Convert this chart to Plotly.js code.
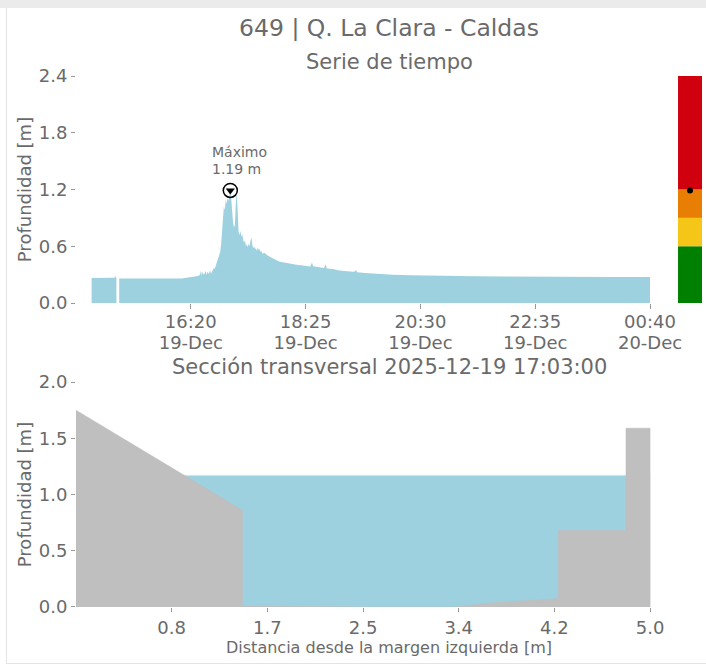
<!DOCTYPE html>
<html><head><meta charset="utf-8">
<script src="https://cdn.plot.ly/plotly-3.0.1.min.js"></script>
<style>
html,body{margin:0;padding:0;background:#fff;}
#topband{position:absolute;left:0;top:0;width:706px;height:8px;background:#ebebeb;}
#leftline{position:absolute;left:6px;top:8px;width:1px;height:656px;background:#e4e4e4;}
#bottomline{position:absolute;left:6px;top:663px;width:700px;height:1px;background:#e4e4e4;}
#chart{position:absolute;left:0;top:0;width:706px;height:665px;}
</style></head><body>
<div id="topband"></div><div id="leftline"></div><div id="bottomline"></div>
<div id="chart"></div>
<script>
// ---- Time series (Serie de tiempo) ----
const fechas = [
'2025-12-19 14:32','2025-12-19 14:40','2025-12-19 14:50','2025-12-19 14:57','2025-12-19 14:58','2025-12-19 14:59',
'2025-12-19 15:00','2025-12-19 15:02','2025-12-19 15:15','2025-12-19 15:30','2025-12-19 15:45','2025-12-19 16:00',
'2025-12-19 16:10','2025-12-19 16:15','2025-12-19 16:20','2025-12-19 16:25','2025-12-19 16:28','2025-12-19 16:30',
'2025-12-19 16:31','2025-12-19 16:32','2025-12-19 16:33','2025-12-19 16:34','2025-12-19 16:35','2025-12-19 16:36',
'2025-12-19 16:37','2025-12-19 16:38','2025-12-19 16:39','2025-12-19 16:40','2025-12-19 16:41','2025-12-19 16:42',
'2025-12-19 16:43','2025-12-19 16:44','2025-12-19 16:45','2025-12-19 16:46','2025-12-19 16:47','2025-12-19 16:48',
'2025-12-19 16:49','2025-12-19 16:50','2025-12-19 16:51','2025-12-19 16:52','2025-12-19 16:53','2025-12-19 16:54',
'2025-12-19 16:55','2025-12-19 16:56','2025-12-19 16:57','2025-12-19 16:58','2025-12-19 16:59','2025-12-19 17:00',
'2025-12-19 17:01','2025-12-19 17:02','2025-12-19 17:03','2025-12-19 17:04','2025-12-19 17:05','2025-12-19 17:06',
'2025-12-19 17:07','2025-12-19 17:08','2025-12-19 17:09','2025-12-19 17:10','2025-12-19 17:11','2025-12-19 17:12',
'2025-12-19 17:13','2025-12-19 17:14','2025-12-19 17:15','2025-12-19 17:16','2025-12-19 17:17','2025-12-19 17:18',
'2025-12-19 17:19','2025-12-19 17:20','2025-12-19 17:21','2025-12-19 17:22','2025-12-19 17:23','2025-12-19 17:24',
'2025-12-19 17:25','2025-12-19 17:26','2025-12-19 17:27','2025-12-19 17:28','2025-12-19 17:29','2025-12-19 17:30',
'2025-12-19 17:31','2025-12-19 17:32','2025-12-19 17:33','2025-12-19 17:34','2025-12-19 17:35','2025-12-19 17:36',
'2025-12-19 17:37','2025-12-19 17:38','2025-12-19 17:40','2025-12-19 17:42','2025-12-19 17:44','2025-12-19 17:46',
'2025-12-19 17:48','2025-12-19 17:50','2025-12-19 17:53','2025-12-19 17:56','2025-12-19 18:00','2025-12-19 18:05',
'2025-12-19 18:10','2025-12-19 18:15','2025-12-19 18:20','2025-12-19 18:25','2025-12-19 18:30','2025-12-19 18:32',
'2025-12-19 18:33','2025-12-19 18:35','2025-12-19 18:40','2025-12-19 18:45','2025-12-19 18:47','2025-12-19 18:48',
'2025-12-19 18:55','2025-12-19 19:00','2025-12-19 19:10','2025-12-19 19:18','2025-12-19 19:20','2025-12-19 19:21',
'2025-12-19 19:30','2025-12-19 19:45','2025-12-19 20:00','2025-12-19 20:20','2025-12-19 20:40','2025-12-19 21:00',
'2025-12-19 21:30','2025-12-19 22:00','2025-12-19 22:30','2025-12-19 23:00','2025-12-19 23:30','2025-12-20 00:00',
'2025-12-20 00:20','2025-12-20 00:40'
];
const profundidad = [
0.265,0.264,0.265,0.266,0.285,0.262,
null,0.258,0.258,0.257,0.256,0.255,
0.258,0.268,0.272,0.275,0.285,0.30,
0.34,0.29,0.335,0.30,0.31,0.34,
0.30,0.33,0.31,0.32,0.345,0.31,
0.33,0.35,0.37,0.36,0.39,0.42,
0.44,0.47,0.50,0.54,0.62,0.75,
0.92,1.02,0.98,1.09,1.05,1.11,
1.08,1.14,1.19,1.10,0.95,0.85,
0.80,0.82,1.05,1.17,0.98,0.75,
0.72,0.76,0.70,0.73,0.67,0.64,
0.66,0.60,0.62,0.59,0.63,0.60,
0.66,0.69,0.61,0.58,0.60,0.57,
0.58,0.55,0.59,0.56,0.57,0.54,
0.55,0.52,0.53,0.51,0.50,0.49,
0.48,0.47,0.46,0.44,0.43,0.42,
0.41,0.405,0.40,0.395,0.385,0.43,
0.39,0.385,0.375,0.37,0.41,0.365,
0.36,0.345,0.335,0.33,0.35,0.325,
0.318,0.307,0.300,0.293,0.288,0.285,
0.283,0.280,0.277,0.277,0.276,0.275,
0.275,0.274
];
const rangoTiempo = ['2025-12-19 14:15','2025-12-20 00:40'];
const ticksTiempo = ['2025-12-19 16:20','2025-12-19 18:25','2025-12-19 20:30','2025-12-19 22:35','2025-12-20 00:40'];
const etiquetasHora = ['16:20','18:25','20:30','22:35','00:40'];
const etiquetasDia = ['19-Dec','19-Dec','19-Dec','19-Dec','20-Dec'];

// ---- Alert levels bar ----
const umbralesInf = [0, 0.6, 0.9, 1.2];
const umbralesSup = [0.6, 0.9, 1.2, 2.4];
const coloresAlerta = ['#008000','#f5c518','#e87e04','#d0000f'];
const nivelActual = 1.19;

// ---- Cross section ----
const distancia = [0, 1.45, 1.45, 2.5, 3.3, 3.6, 4.2, 4.2, 4.79, 4.79, 5.0, 5.0];
const terreno =   [1.75, 0.86, 0.01, 0.0, 0.0, 0.035, 0.075, 0.68, 0.68, 1.59, 1.59, 0.0];
const nivelSeccion = 1.17;
const seccionX = [0, 5.0];
const rangoDist = [0, 5.452];
const ticksDist = [0.8333, 1.6667, 2.5, 3.3333, 4.1667, 5.0];
const etiquetasDist = ['0.8','1.7','2.5','3.4','4.2','5.0'];

// max
let iMax = 0;
profundidad.forEach((v,i)=>{ if(v!==null && v>profundidad[iMax]) iMax=i; });

// split series at missing values so each run is filled separately
const tramos = [];
let cur = {x:[], y:[]};
profundidad.forEach((v,i)=>{
  if(v===null){ if(cur.x.length) tramos.push(cur); cur = {x:[], y:[]}; }
  else { cur.x.push(fechas[i]); cur.y.push(v); }
});
if(cur.x.length) tramos.push(cur);

const gris = '#6a6a6a';
const azul = '#9dd1e0';
const FONT = '"DejaVu Sans", sans-serif';

const traces = [];
tramos.forEach(t=>traces.push({x:t.x, y:t.y, type:'scatter', mode:'lines', fill:'tozeroy', fillcolor:azul,
   line:{width:0, color:azul}, xaxis:'x', yaxis:'y', hoverinfo:'skip'}));
traces.push(
  {x:[fechas[iMax]], y:[profundidad[iMax]], type:'scatter', mode:'markers',
   marker:{symbol:'circle-open', size:14, color:'black', line:{width:1.5, color:'black'}}, xaxis:'x', yaxis:'y'},
  {x:[fechas[iMax]], y:[profundidad[iMax]], type:'scatter', mode:'markers',
   marker:{symbol:'triangle-down', size:8, color:'black'}, xaxis:'x', yaxis:'y'},
  {x:[rangoTiempo[0]], y:[null], type:'scatter', mode:'markers', xaxis:'x4', yaxis:'y', hoverinfo:'skip'},
  {x:umbralesInf.map(()=>0.5), y:umbralesSup.map((s,i)=>s-umbralesInf[i]), base:umbralesInf, type:'bar',
   width:1, marker:{color:coloresAlerta, line:{width:0}}, xaxis:'x3', yaxis:'y3'},
  {x:[0.5], y:[nivelActual], type:'scatter', mode:'markers', marker:{size:6, color:'black'}, xaxis:'x3', yaxis:'y3'},
  {x:seccionX, y:[nivelSeccion, nivelSeccion], type:'scatter', mode:'lines', fill:'tozeroy', fillcolor:azul,
   line:{width:1, color:'#c8e6ee'}, xaxis:'x2', yaxis:'y2'},
  {x:distancia, y:terreno, type:'scatter', mode:'lines', fill:'tozeroy', fillcolor:'#bfbfbf',
   line:{width:0.5, color:'#bfbfbf'}, xaxis:'x2', yaxis:'y2'}
);

const axCommon = {showgrid:false, zeroline:false, showline:false, ticks:'outside', ticklen:4,
  tickcolor:'#999', tickfont:{size:18, color:gris, family:FONT}};

const layout = {
  width:706, height:665,
  margin:{l:76, r:4, t:76, b:58},
  paper_bgcolor:'rgba(0,0,0,0)', plot_bgcolor:'rgba(0,0,0,0)',
  showlegend:false, barmode:'overlay',
  font:{family:FONT, color:gris, size:15},
  title:{text:'649 | Q. La Clara - Caldas', x:0.5, xref:'paper', xanchor:'center', y:1-28/665, yanchor:'middle',
    font:{size:23.5, color:gris}},
  xaxis:Object.assign({}, axCommon, {type:'date', domain:[0,0.917], range:rangoTiempo, anchor:'y',
    tickmode:'array', tickvals:ticksTiempo, ticktext:etiquetasHora, ticklen:5, ticklabelstandoff:-3}),
  xaxis4:Object.assign({}, axCommon, {type:'date', range:rangoTiempo, anchor:'y', overlaying:'x', side:'bottom',
    tickmode:'array', tickvals:ticksTiempo, ticktext:etiquetasDia, ticks:'', ticklen:0, ticklabelstandoff:27}),
  yaxis:Object.assign({}, axCommon, {domain:[0.5725,1], range:[0,2.4], anchor:'x',
    tickmode:'array', tickvals:[0,0.6,1.2,1.8,2.4], tickformat:'.1f',
    title:{text:'Profundidad [m]', font:{size:18, color:gris}, standoff:2}}),
  xaxis2:Object.assign({}, axCommon, {domain:[0,1], range:rangoDist, anchor:'y2',
    tickmode:'array', tickvals:ticksDist, ticktext:etiquetasDist,
    title:{text:'Distancia desde la margen izquierda [m]', font:{size:16, color:gris}, standoff:4}}),
  yaxis2:Object.assign({}, axCommon, {domain:[0,0.4237], range:[0,2], anchor:'x2',
    tickmode:'array', tickvals:[0,0.5,1,1.5,2], tickformat:'.1f',
    title:{text:'Profundidad [m]', font:{size:18, color:gris}, standoff:2}}),
  xaxis3:{domain:[0.9617,1], range:[0,1], visible:false, anchor:'y3', fixedrange:true},
  yaxis3:{domain:[0.5725,1], range:[0,2.4], visible:false, anchor:'x3', fixedrange:true},
  annotations:[
    {text:'Serie de tiempo', xref:'paper', yref:'paper', x:0.5, y:(607-62)/531, xanchor:'center', yanchor:'middle',
     showarrow:false, font:{size:21, color:gris}},
    {text:'Sección transversal 2025-12-19 17:03:00', xref:'paper', yref:'paper', x:0.5, y:(607-367)/531,
     xanchor:'center', yanchor:'middle', showarrow:false, font:{size:21, color:gris}},
    {text:'Máximo', xref:'x', yref:'y', x:fechas[iMax], y:profundidad[iMax],
     xanchor:'left', yanchor:'middle', xshift:-20, yshift:38, align:'left', showarrow:false,
     font:{size:14, color:gris}},
    {text:profundidad[iMax].toFixed(2)+' m', xref:'x', yref:'y', x:fechas[iMax], y:profundidad[iMax],
     xanchor:'left', yanchor:'middle', xshift:-20, yshift:21, align:'left', showarrow:false,
     font:{size:14, color:gris}}
  ]
};
Plotly.newPlot('chart', traces, layout, {displayModeBar:false, staticPlot:true});
</script>
</body></html>
